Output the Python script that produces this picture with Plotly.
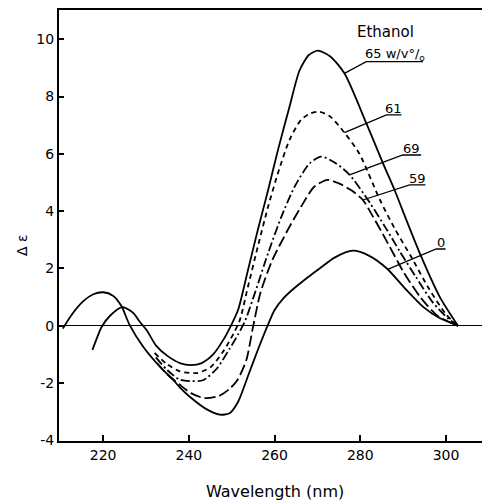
import numpy as np
import plotly.graph_objects as go

# ---------------- data ----------------
wl_0 = [210.6, 212.5, 215.3, 217.7, 220.0, 222.3, 224.3, 226.1, 229.3, 233.2, 236.3, 238.0,
        240.0, 244.0, 247.2, 249.5, 251.5, 253.8, 256.2, 258.5, 260.0, 262.0, 264.5, 267.4,
        270.5, 274.0, 278.3, 282.0, 286.2, 290.7, 294.6, 298.5, 302.8]
de_0 = [-0.10, 0.35, 0.85, 1.10, 1.17, 1.05, 0.68, 0.05, -0.72, -1.42, -1.88, -2.17,
        -2.45, -2.90, -3.10, -3.05, -2.65, -1.75, -0.80, 0.05, 0.55, 0.95, 1.30, 1.65,
        2.00, 2.38, 2.62, 2.45, 2.00, 1.26, 0.67, 0.27, 0.00]

wl_65 = [217.5, 218.5, 219.6, 221.6, 224.5, 227.0, 228.5, 230.1, 232.4, 235.0, 237.9, 240.5,
         243.0, 245.6, 248.0, 249.8, 251.5, 253.8, 256.1, 258.5, 260.8, 263.5, 265.8, 268.0,
         270.1, 273.0, 276.3, 281.4, 285.3, 288.0, 291.0, 294.2, 298.5, 302.8]
de_65 = [-0.84, -0.45, -0.05, 0.35, 0.65, 0.45, 0.15, -0.14, -0.70, -1.05, -1.30, -1.37,
         -1.30, -1.01, -0.50, 0.00, 0.56, 1.95, 3.35, 4.74, 6.14, 7.65, 8.90, 9.45,
         9.60, 9.40, 8.81, 7.07, 5.67, 4.74, 3.60, 2.42, 1.02, 0.00]

wl_61 = [232.0, 235.0, 237.9, 241.8, 245.0, 248.0, 250.5, 251.9, 253.8, 256.1, 258.5, 260.8,
         263.5, 266.2, 268.5, 270.5, 273.0, 276.3, 279.8, 284.6, 288.0, 291.9, 296.0, 300.0, 302.8]
de_61 = [-0.95, -1.35, -1.59, -1.65, -1.45, -0.90, -0.25, 0.20, 1.37, 2.77, 4.16, 5.33,
         6.49, 7.19, 7.42, 7.47, 7.30, 6.74, 6.00, 4.39, 3.40, 2.40, 1.30, 0.40, 0.00]

wl_69 = [232.3, 235.0, 237.9, 240.5, 243.3, 246.5, 249.5, 251.5, 253.2, 255.4, 258.5, 261.6,
         264.7, 268.2, 270.9, 274.0, 277.5, 282.2, 286.0, 289.2, 293.0, 297.0, 300.5, 302.8]
de_69 = [-1.10, -1.55, -1.88, -1.93, -1.90, -1.50, -0.80, -0.30, 0.20, 1.14, 2.54, 3.81,
         4.86, 5.67, 5.90, 5.70, 5.27, 4.30, 3.40, 2.60, 1.70, 0.80, 0.25, 0.00]

wl_59 = [232.6, 235.0, 237.9, 240.5, 243.5, 247.0, 249.5, 251.3, 253.4, 255.0, 256.7, 259.5,
         263.1, 266.2, 269.3, 272.4, 275.0, 278.0, 280.6, 283.0, 286.0, 290.0, 294.0, 298.0, 302.8]
de_59 = [-1.30, -1.70, -2.06, -2.35, -2.52, -2.45, -2.20, -1.90, -1.20, -0.02, 1.15, 2.30,
         3.35, 4.16, 4.86, 5.09, 4.97, 4.72, 4.39, 3.80, 3.00, 1.90, 1.00, 0.35, 0.00]

series_names = ["65 w/v°/<sub>o</sub>", "61", "69", "59", "0"]

x_tick_vals = [220, 240, 260, 280, 300]
x_tick_text = ["220", "240", "260", "280", "300"]
y_tick_vals = [-4, -2, 0, 2, 4, 6, 8, 10]
y_tick_text = ["-4", "-2", "0", "2", "4", "6", "8", "10"]

# ---------------- styling / layout ----------------
curves = [
    (wl_65, de_65, "solid"),
    (wl_61, de_61, "5px,4px"),
    (wl_69, de_69, "9px,3px,2px,3px"),
    (wl_59, de_59, "11px,4px"),
    (wl_0, de_0, "solid"),
]

# label leader geometry: anchor wavelength on curve, elbow (wl, de), underline end wl
label_geom = [
    (276.3, (281.4, 9.22), 294.6),
    (276.3, (286.1, 7.36), 289.6),
    (277.5, (289.9, 5.96), 294.2),
    (280.6, (291.5, 4.92), 295.2),
    (286.4, (297.7, 2.68), 299.9),
]

fig = go.Figure()
for (wl, de, dash) in curves:
    fig.add_trace(go.Scatter(x=wl, y=de, mode="lines",
                             line=dict(color="black", width=1.8, dash=dash, shape="spline", smoothing=0.7),
                             showlegend=False, hoverinfo="skip"))

annotations = []
for name, (wl, de, dash), (aw, (ex, ey), ux) in zip(series_names, curves, label_geom):
    w = np.array(wl); d = np.array(de)
    pk = int(np.argmax(d))
    ay = float(np.interp(aw, w[pk:], d[pk:]))
    fig.add_trace(go.Scatter(x=[aw, ex, ux], y=[ay, ey, ey], mode="lines",
                             line=dict(color="black", width=1.3),
                             showlegend=False, hoverinfo="skip"))
    annotations.append(dict(x=(ex + ux) / 2, y=ey, xref="x", yref="y", text=name,
                            showarrow=False, yanchor="bottom", xanchor="center", yshift=-3,
                            font=dict(family="DejaVu Sans", size=13, color="black")))

annotations.append(dict(x=285.8, y=10.25, xref="x", yref="y", text="Ethanol", showarrow=False,
                        font=dict(family="DejaVu Sans", size=15, color="black")))
annotations.append(dict(x=260.1, y=-0.118, xref="x", yref="paper", text="Wavelength (nm)",
                        showarrow=False, yanchor="middle",
                        font=dict(family="DejaVu Sans", size=16, color="black")))
annotations.append(dict(x=-0.111, y=0.455, xref="paper", yref="paper", text="Δ ε",
                        showarrow=False, textangle=-90,
                        font=dict(family="DejaVu Sans", size=14, color="black")))

fig.update_layout(
    width=482, height=501,
    margin=dict(l=59, r=0, t=10, b=60),
    paper_bgcolor="white", plot_bgcolor="white",
    showlegend=False,
    annotations=annotations,
    font=dict(family="DejaVu Sans", size=14, color="black"),
)
fig.update_xaxes(range=[209.7, 308.4], tickvals=x_tick_vals, ticktext=x_tick_text,
                 ticks="inside", ticklen=6, tickwidth=1.5, tickcolor="black",
                 showline=True, linecolor="black", linewidth=2, mirror=True,
                 showgrid=False, zeroline=False, tickfont=dict(size=14))
fig.update_yaxes(range=[-4.02, 11.02], tickvals=y_tick_vals, ticktext=y_tick_text,
                 ticks="inside", ticklen=5, tickwidth=1.5, tickcolor="black",
                 showline=True, linecolor="black", linewidth=2, mirror=False,
                 showgrid=False, zeroline=True, zerolinecolor="black", zerolinewidth=1.3,
                 tickfont=dict(size=14))

fig.write_html("out.html", config={"displayModeBar": False},
               post_script="document.body.style.margin='0px';document.body.style.overflow='hidden';")
